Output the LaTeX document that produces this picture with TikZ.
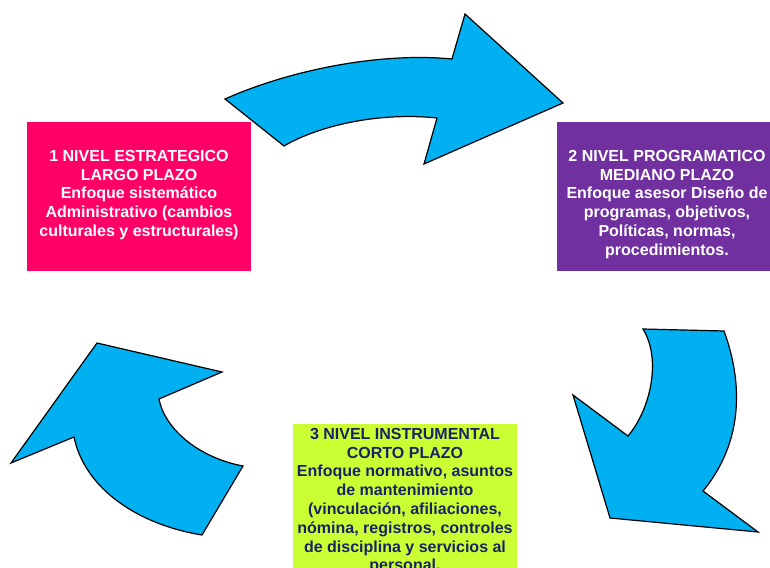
\documentclass[tikz,border=0pt]{standalone}
\usepackage{fontspec}
\setmainfont{Liberation Sans}
\definecolor{pinkbox}{HTML}{FF0066}
\definecolor{purplebox}{HTML}{7030A0}
\definecolor{greenbox}{HTML}{CCFF33}
\definecolor{arrowblue}{HTML}{00B0F0}
\definecolor{navytext}{HTML}{1A2266}
\begin{document}
\begin{tikzpicture}[x=1pt,y=-1pt,
  boxstyle/.style={draw=none, inner sep=0pt, outer sep=0pt, anchor=north west},
  arrowshape/.style={fill=arrowblue, draw=black, line width=1.2pt, line join=miter},
  boxtext/.style={font=\fontsize{16}{18.8}\selectfont\bfseries, align=center, inner sep=0pt, anchor=north}]
\useasboundingbox (0,0) rectangle (770,567);
\clip (0,0) rectangle (770,567);

% boxes
\node[boxstyle, fill=pinkbox, minimum width=224pt, minimum height=149pt] (b1) at (27,122) {};
\node[boxstyle, fill=purplebox, minimum width=220pt, minimum height=149pt] (b2) at (557,122) {};
\node[boxstyle, fill=greenbox, minimum width=224pt, minimum height=160pt] (b3) at (293,424) {};

% texts
\node[boxtext, text=white] (t1) at (139,150) {1 NIVEL ESTRATEGICO\\LARGO PLAZO\\Enfoque sistemático\\Administrativo (cambios\\culturales y estructurales)};
\node[boxtext, text=white] (t2) at (667,150) {2 NIVEL PROGRAMATICO\\MEDIANO PLAZO\\Enfoque asesor Diseño de\\programas, objetivos,\\Políticas, normas,\\procedimientos.};
\node[boxtext, text=navytext] (t3) at (405,428) {3 NIVEL INSTRUMENTAL\\CORTO PLAZO\\Enfoque normativo, asuntos\\de mantenimiento\\(vinculación, afiliaciones,\\nómina, registros, controles\\de disciplina y servicios al\\personal.};

% top arrow
\draw[arrowshape] (225,99) .. controls (290,70) and (380,52) .. (452,59)
  -- (465,14) -- (563,103) -- (424,164) -- (437,118)
  .. controls (380,112) and (320,125) .. (284,146) -- cycle;

% right arrow
\draw[arrowshape] (643,329) -- (724,331)
  .. controls (742,380) and (745,440) .. (703,491)
  -- (758,532) -- (610,518) -- (573,395) -- (628,436)
  .. controls (650,410) and (662,360) .. cycle;

% left arrow
\draw[arrowshape] (97,343) -- (222,372) -- (159,399)
  .. controls (165,430) and (200,458) .. (243,466)
  -- (202,535)
  .. controls (140,525) and (85,490) .. (74,437)
  -- (11,463) -- cycle;
\end{tikzpicture}
\end{document}
